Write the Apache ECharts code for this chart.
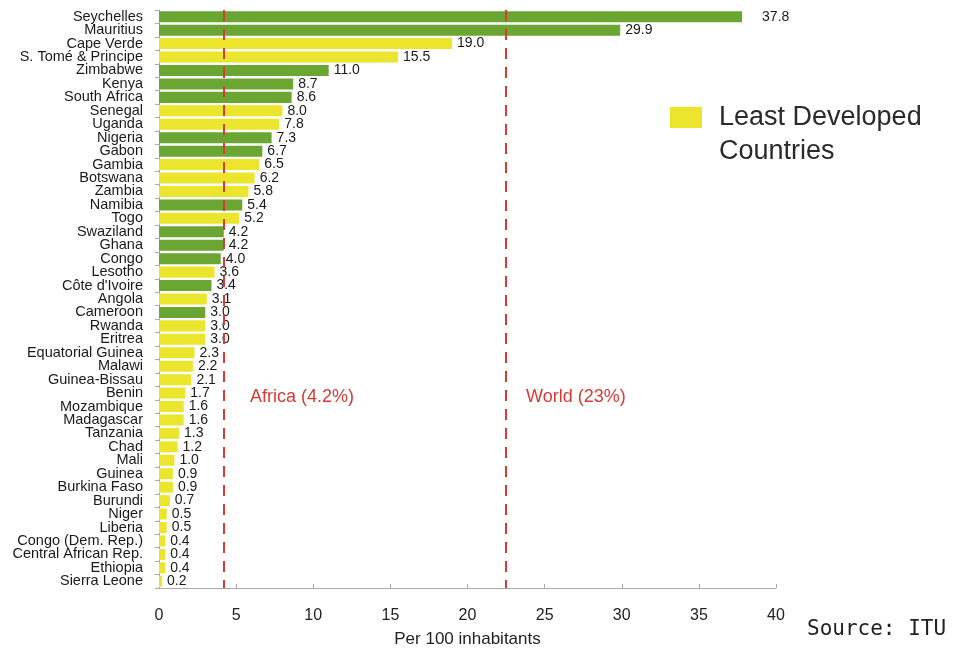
<!DOCTYPE html>
<html><head><meta charset="utf-8">
<script src="https://cdn.jsdelivr.net/npm/echarts@6/dist/echarts.min.js"></script>
<style>html,body{margin:0;padding:0;background:#fff}#c{width:961px;height:649px}</style>
</head><body><div id="c"></div>
<script>
const countries = ["Seychelles","Mauritius","Cape Verde","S. Tomé & Principe","Zimbabwe","Kenya","South Africa","Senegal","Uganda","Nigeria","Gabon","Gambia","Botswana","Zambia","Namibia","Togo","Swaziland","Ghana","Congo","Lesotho","Côte d'Ivoire","Angola","Cameroon","Rwanda","Eritrea","Equatorial Guinea","Malawi","Guinea-Bissau","Benin","Mozambique","Madagascar","Tanzania","Chad","Mali","Guinea","Burkina Faso","Burundi","Niger","Liberia","Congo (Dem. Rep.)","Central African Rep.","Ethiopia","Sierra Leone"];
const values = [37.8,29.9,19.0,15.5,11.0,8.7,8.6,8.0,7.8,7.3,6.7,6.5,6.2,5.8,5.4,5.2,4.2,4.2,4.0,3.6,3.4,3.1,3.0,3.0,3.0,2.3,2.2,2.1,1.7,1.6,1.6,1.3,1.2,1.0,0.9,0.9,0.7,0.5,0.5,0.4,0.4,0.4,0.2];
const leastDeveloped = [0,0,1,1,0,0,0,1,1,0,0,1,1,1,0,1,0,0,0,1,0,1,0,1,1,1,1,1,1,1,1,1,1,1,1,1,1,1,1,1,1,1,1];
const xTicks = [0,5,10,15,20,25,30,35,40];
const africaAvg = 4.2, worldAvg = 22.5;
const africaLabel = "Africa (4.2%)", worldLabel = "World (23%)";
const legendLine1 = "Least Developed", legendLine2 = "Countries";

const GREEN = "#6ca632", YELLOW = "#ece52e", RED = "#d93a33";
const FONT = "Liberation Sans, Arial";
function mk(flag){
  return values.map((v,i)=> leastDeveloped[i]===flag ? {value:v, label:{distance: i===0?20:5}} : null);
}
const chart = echarts.init(document.getElementById('c'));
chart.setOption({
  animation:false,
  grid:{left:159, right:185, top:10, bottom:61, containLabel:false, outerBoundsMode:'none'},
  legend:{
    data:["Least Developed Countries"], left:665, top:99, orient:'vertical',
    itemWidth:32, itemHeight:21,
    formatter:()=> legendLine1,
    textStyle:{fontSize:27, color:"#2a2a2a", fontFamily:FONT, padding:[0,0,0,12]},
    icon:'rect'
  },
  xAxis:{
    type:'value', min:0, max:40, interval:5,
    axisLine:{show:true, lineStyle:{color:"#aaa"}},
    axisTick:{show:true, inside:true, length:4, lineStyle:{color:"#aaa"}},
    splitLine:{show:false},
    axisLabel:{fontSize:16, color:"#222", margin:20, fontFamily:FONT,
      formatter:(v)=> xTicks.includes(v)? String(v):''},
    name:"Per 100 inhabitants", nameLocation:'middle', nameGap:43,
    nameTextStyle:{fontSize:17, color:"#222", fontFamily:FONT}
  },
  yAxis:{
    type:'category', data:countries, inverse:true,
    axisLine:{show:true, lineStyle:{color:"#aaa"}},
    axisTick:{show:true, length:4, lineStyle:{color:"#aaa"}},
    axisLabel:{fontSize:14.5, color:"#1a1a1a", margin:16, fontFamily:FONT, interval:0}
  },
  series:[
    {name:"Other", type:'bar', stack:'a', data:mk(0), itemStyle:{color:GREEN}, barCategoryGap:'18%',
     label:{show:true, position:'right', fontSize:14, color:"#1a1a1a", fontFamily:FONT, formatter:(p)=>p.value.toFixed(1)},
     markLine:{
       symbol:'none', silent:true,
       lineStyle:{color:RED, type:[11,8], width:2},
       label:{show:false},
       data:[{xAxis:africaAvg},{xAxis:worldAvg}]
     }},
    {name:"Least Developed Countries", type:'bar', stack:'a', data:mk(1), itemStyle:{color:YELLOW}, barCategoryGap:'18%',
     label:{show:true, position:'right', fontSize:14, color:"#1a1a1a", fontFamily:FONT, formatter:(p)=>p.value.toFixed(1)}}
  ],
  graphic:[
    {type:'text', left:719, top:138, style:{text:legendLine2, fontSize:27, fill:"#2a2a2a", fontFamily:FONT}},
    {type:'text', left:250, top:388, style:{text:africaLabel, fontSize:18, fill:RED, fontFamily:FONT}},
    {type:'text', left:526, top:388, style:{text:worldLabel, fontSize:18, fill:RED, fontFamily:FONT}},
    {type:'text', left:807, top:619, style:{text:"Source: ITU", fontSize:21, fill:"#222", fontFamily:"DejaVu Sans Mono"}}
  ]
});
</script></body></html>
